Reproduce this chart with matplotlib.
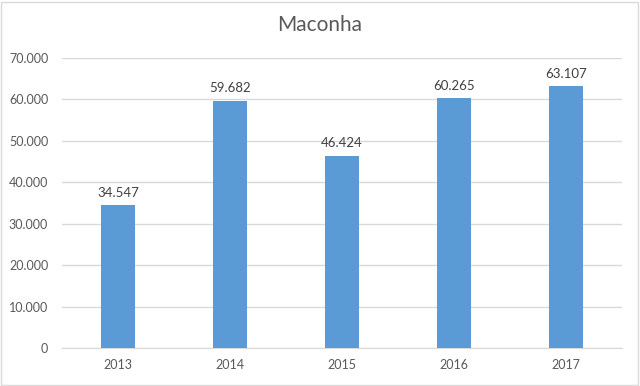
import matplotlib
matplotlib.use('Agg')
import matplotlib.pyplot as plt
from matplotlib.patches import Rectangle

years = ['2013', '2014', '2015', '2016', '2017']
values = [34547, 59682, 46424, 60265, 63107]
yticks = [0, 10000, 20000, 30000, 40000, 50000, 60000, 70000]


def fmt(v):
    return f'{v:,}'.replace(',', '.')


plt.rcParams['font.family'] = ['Lato', 'DejaVu Sans']
txt = '#595959'

fig = plt.figure(figsize=(6.4, 3.86), dpi=100)
ax = fig.add_axes([0.097, 0.098, 0.875, 0.752])

x = range(len(years))
bars = ax.bar(x, values, width=0.31, color='#5B9BD5', zorder=3)
for b, v in zip(bars, values):
    ax.text(b.get_x() + b.get_width() / 2, v + 1500, fmt(v),
            ha='center', va='bottom', fontsize=9.5, color='#404040')

ax.set_xlim(-0.5, len(years) - 0.5)
ax.set_ylim(0, 70000)
ax.set_yticks(yticks)
ax.set_yticklabels([fmt(t) for t in yticks])
ax.set_xticks(list(x))
ax.set_xticklabels(years)
ax.tick_params(length=0, colors=txt, labelsize=9)
ax.tick_params(axis='y', pad=10)
ax.tick_params(axis='x', pad=8)
ax.grid(axis='y', color='#D9D9D9', linewidth=1, zorder=0)
for s in ['top', 'right', 'left']:
    ax.spines[s].set_visible(False)
ax.spines['bottom'].set_color('#D9D9D9')

fig.text(0.5, 0.935, 'Maconha', ha='center', va='center', fontsize=15, color=txt)
fig.patches.append(Rectangle((0.002, 0.003), 0.995, 0.993, transform=fig.transFigure,
                             fill=False, edgecolor='#D9D9D9', linewidth=1))

fig.savefig('out.png', dpi=100)
